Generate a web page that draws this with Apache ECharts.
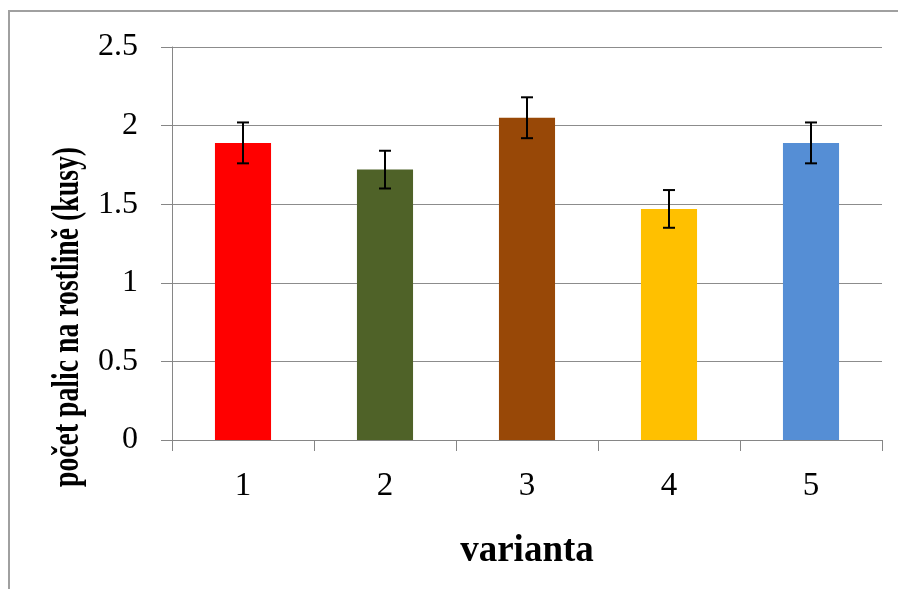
<!DOCTYPE html>
<html>
<head>
<meta charset="utf-8">
<script src="https://cdn.jsdelivr.net/npm/echarts@6/dist/echarts.min.js"></script>
<style>
html,body{margin:0;padding:0;background:#fff;}
#chart{width:898px;height:589px;}
</style>
</head>
<body>
<div id="chart"></div>
<script>
const categories = ['1', '2', '3', '4', '5'];
const means = [1.89, 1.72, 2.05, 1.47, 1.89];
const errors = [0.13, 0.12, 0.13, 0.12, 0.13];
const yTicks = [0, 0.5, 1, 1.5, 2, 2.5];
const barColors = ['#FF0000', '#4F6228', '#984807', '#FFC000', '#558ED5'];
const xTitle = 'varianta';
const yTitle = 'počet palic na rostlině (kusy)';

const chart = echarts.init(document.getElementById('chart'));
const serif = '"Liberation Serif", "Times New Roman", serif';

chart.setOption({
  animation: false,
  backgroundColor: '#fff',
  grid: { left: 172, right: 16, top: 47, bottom: 149, containLabel: false },
  xAxis: {
    type: 'category',
    data: categories,
    name: xTitle,
    nameLocation: 'middle',
    nameGap: 93,
    nameTextStyle: { fontFamily: serif, fontWeight: 'bold', fontSize: 37, color: '#000' },
    axisLine: { lineStyle: { color: '#868686', width: 1 } },
    axisTick: { show: true, length: 11, lineStyle: { color: '#868686' } },
    axisLabel: { fontFamily: serif, fontSize: 33, color: '#000', margin: 30 },
    splitLine: { show: false }
  },
  yAxis: {
    type: 'value',
    min: yTicks[0],
    max: yTicks[yTicks.length - 1],
    interval: 0.5,
    axisLine: { show: true, lineStyle: { color: '#868686', width: 1 } },
    axisTick: { show: true, length: 11, lineStyle: { color: '#868686' } },
    axisLabel: { fontFamily: serif, fontSize: 32, color: '#000', margin: 34 },
    splitLine: { show: true, lineStyle: { color: '#8c8c8c', width: 1 } }
  },
  graphic: [
    {
      type: 'polyline',
      x: 0, y: 0,
      shape: { points: [[9, 700], [9, 11], [1000, 11]] },
      style: { fill: 'none', stroke: '#a0a0a0', lineWidth: 2 },
      silent: true, z: -1
    },
    {
      type: 'text',
      x: 68, y: 317,
      rotation: Math.PI / 2,
      scaleX: 0.73,
      style: {
        text: yTitle,
        font: 'bold 38px ' + serif,
        fill: '#000',
        textAlign: 'center',
        textVerticalAlign: 'middle'
      }
    }
  ],
  series: [
    {
      type: 'bar',
      data: means.map((v, i) => ({ value: v, itemStyle: { color: barColors[i] } })),
      barWidth: '39.5%'
    },
    {
      type: 'custom',
      data: means.map((v, i) => [i, v, errors[i]]),
      renderItem: function (params, api) {
        const i = api.value(0), m = api.value(1), e = api.value(2);
        const top = api.coord([i, m + e]);
        const bot = api.coord([i, m - e]);
        const cap = 6;
        const st = { stroke: '#000', lineWidth: 2 };
        return {
          type: 'group',
          children: [
            { type: 'line', shape: { x1: top[0], y1: top[1], x2: bot[0], y2: bot[1] }, style: st },
            { type: 'line', shape: { x1: top[0] - cap, y1: top[1], x2: top[0] + cap, y2: top[1] }, style: st },
            { type: 'line', shape: { x1: bot[0] - cap, y1: bot[1], x2: bot[0] + cap, y2: bot[1] }, style: st }
          ]
        };
      },
      z: 10
    }
  ]
});
</script>
</body>
</html>
